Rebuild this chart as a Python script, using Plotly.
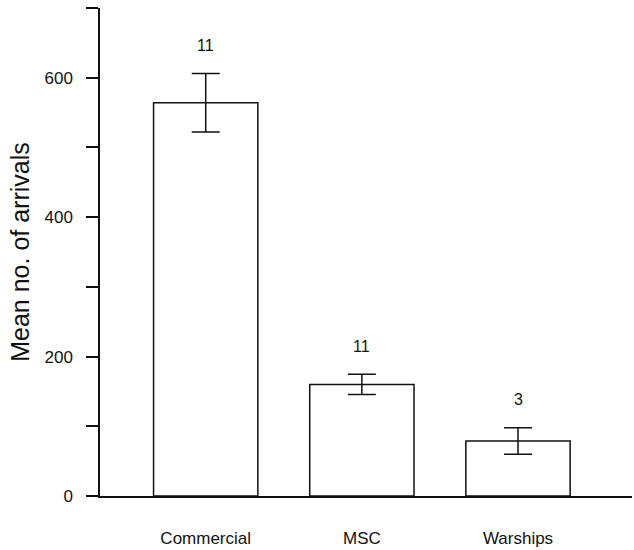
import plotly.graph_objects as go

categories = ["Commercial", "MSC", "Warships"]
means = [564, 160, 79]
errors = [42, 14.5, 19]
counts = ["11", "11", "3"]
y_tickvals = [0, 100, 200, 300, 400, 500, 600, 700]
y_ticktext = ["0", "", "200", "", "400", "", "600", ""]

FONT = "Arial, Liberation Sans, Helvetica, sans-serif"

fig = go.Figure()
fig.add_trace(go.Bar(
    x=list(range(len(categories))),
    y=means,
    width=0.668,
    marker=dict(color="white", line=dict(color="#111111", width=1.5)),
    error_y=dict(type="data", array=errors, visible=True,
                 color="#111111", thickness=1.5, width=14),
    showlegend=False,
    hoverinfo="skip",
))

for i, (m, e, c) in enumerate(zip(means, errors, counts)):
    fig.add_annotation(
        x=i, y=m + e, xref="x", yref="y",
        text=c, showarrow=False,
        yanchor="middle", yshift=28,
        font=dict(family=FONT, size=16, color="#111111"),
    )

fig.update_layout(
    width=634, height=550,
    margin=dict(l=100, r=2, t=8, b=50),
    plot_bgcolor="white", paper_bgcolor="white",
    font=dict(family=FONT, size=17, color="#111111"),
)

fig.update_xaxes(
    tickvals=list(range(len(categories))),
    ticktext=categories,
    range=[-0.677, 2.73],
    showline=True, linecolor="#111111", linewidth=1.5,
    ticks="", showgrid=False, zeroline=False,
    ticklabelstandoff=26,
    tickfont=dict(family=FONT, size=17, color="#111111"),
)

fig.update_yaxes(
    range=[0, 700],
    tickvals=y_tickvals, ticktext=y_ticktext,
    ticks="outside", ticklen=12, tickwidth=1.5, tickcolor="#111111",
    showline=True, linecolor="#111111", linewidth=1.5,
    showgrid=False, zeroline=False,
    ticklabelstandoff=10,
    tickfont=dict(family=FONT, size=17, color="#111111"),
    title=dict(text="Mean no. of arrivals", standoff=8,
               font=dict(family=FONT, size=25, color="#111111")),
)

fig.write_html("out.html")
